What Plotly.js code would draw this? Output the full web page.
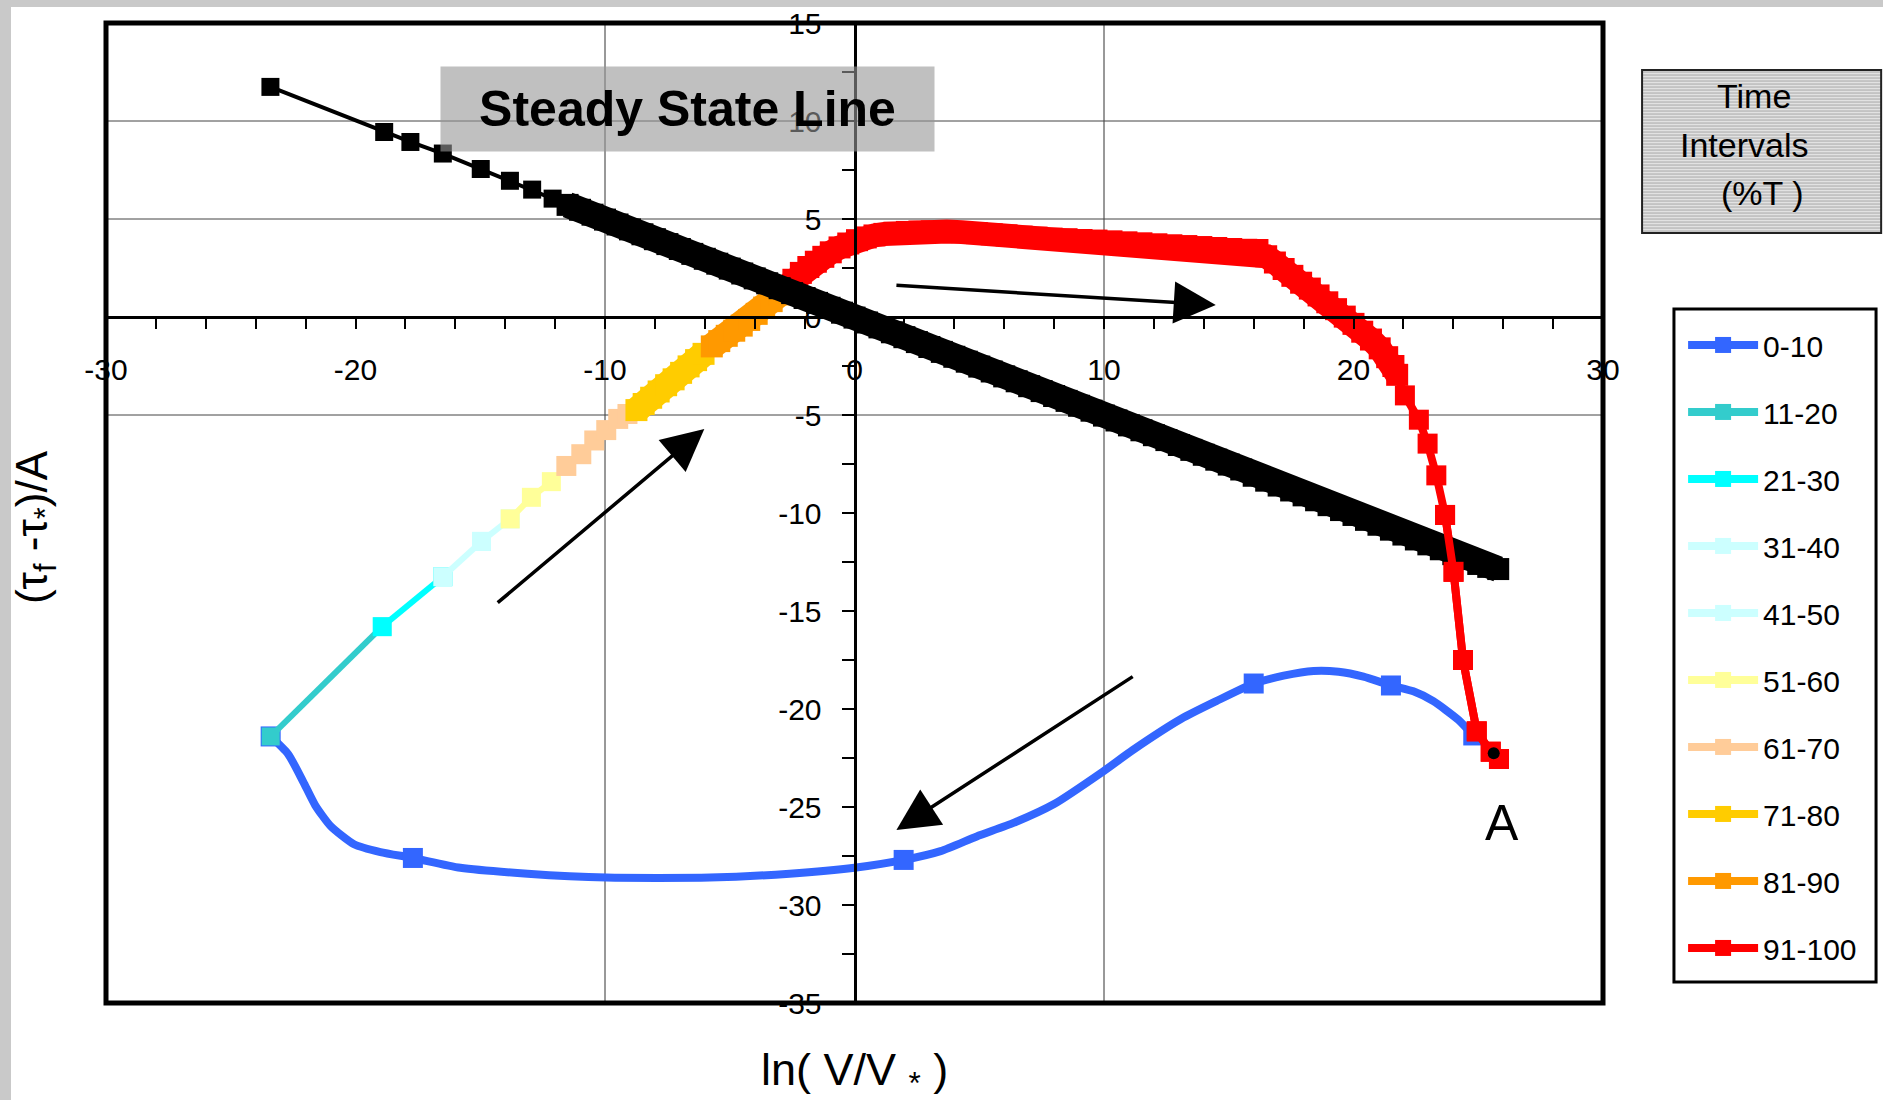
<!DOCTYPE html>
<html><head><meta charset="utf-8">
<script src="https://cdn.plot.ly/plotly-3.0.1.min.js"></script>
<style>
html,body{margin:0;padding:0;background:#c9c9c9;width:1883px;height:1100px;overflow:hidden}
#sheet{position:absolute;left:11px;top:7px;width:1872px;height:1093px;background:#fff}
#chart{position:absolute;left:0;top:0;width:1883px;height:1100px}
</style></head><body><div id="sheet"></div><div id="chart"></div>
<script>
// ---------- data ----------
const xTickVals = [-30, -20, -10, 0, 10, 20, 30];
const xTickText = ['-30', '-20', '-10', '0', '10', '20', '30'];
const yTickVals = [-35, -30, -25, -20, -15, -10, -5, 0, 5, 10, 15];
const yTickText = ['-35', '-30', '-25', '-20', '-15', '-10', '-5', '0', '5', '10', '15'];

const seriesNames = ['0-10', '11-20', '21-30', '31-40', '41-50', '51-60', '61-70', '71-80', '81-90', '91-100'];

// 0-10 (smooth path and its markers)
const t0PathX = [24.8, 24.2, 23.2, 22.4, 21.5, 20.4, 19.4, 18.4, 17.2, 16.0, 14.5, 13.1, 11.15, 9.95, 8.0, 6.4, 4.9, 3.45, 1.97, 0, -2.6, -5.8, -9.95, -13.1, -15.8, -17.7, -19.0, -20.06, -21.0, -21.62, -22.1, -22.7, -23.4];
const t0PathY = [-21.35, -20.55, -19.6, -19.1, -18.8, -18.35, -18.1, -18.06, -18.3, -18.7, -19.6, -20.5, -22.1, -23.2, -24.85, -25.8, -26.5, -27.25, -27.7, -28.1, -28.4, -28.6, -28.6, -28.4, -28.1, -27.6, -27.3, -26.9, -25.97, -24.9, -23.7, -22.3, -21.4];
const t0MarkX = [24.8, 21.5, 16.0, 1.97, -17.7, -23.4];
const t0MarkY = [-21.35, -18.8, -18.7, -27.7, -27.6, -21.4];

const t11X = [-23.4, -18.93];
const t11Y = [-21.4, -15.8];
const t21X = [-18.93, -16.5];
const t21Y = [-15.8, -13.25];
const t31X = [-16.5, -14.95];
const t31Y = [-13.25, -11.45];
const t41X = [-14.95, -13.8];
const t41Y = [-11.45, -10.3];
const t51X = [-13.8, -12.95, -12.15];
const t51Y = [-10.3, -9.2, -8.4];
const t61X = [-11.55, -10.95, -10.43, -9.95, -9.47, -9.1];
const t61Y = [-7.6, -7.0, -6.3, -5.77, -5.2, -4.95];
const t71X = [-8.74, -8.45, -8.15, -7.85, -7.55, -7.25, -6.95, -6.65, -6.35, -6.05];
const t71Y = [-4.75, -4.44, -4.12, -3.8, -3.48, -3.18, -2.85, -2.52, -2.2, -1.88];
const t81X = [-5.72, -5.42, -5.12, -4.82, -4.52, -4.22, -3.92, -3.62, -3.32, -3.02];
const t81Y = [-1.5, -1.23, -0.96, -0.7, -0.44, -0.15, 0.16, 0.48, 0.81, 1.15];
const t91X = [-2.75, -2.45, -2.15, -1.85, -1.55, -1.25, -0.95, -0.6, -0.25, 0.1, 0.45, 0.8, 1.2, 1.6, 2.1, 2.6, 3.1, 3.7, 4.3, 4.9, 5.5, 6.1, 6.7, 7.3, 7.9, 8.5, 9.1, 9.7, 10.3, 10.9, 11.5, 12.1, 12.7, 13.3, 13.9, 14.5, 15.1, 15.7, 16.15, 16.5, 16.85, 17.2, 17.55, 17.9, 18.25, 18.6, 18.95, 19.3, 19.65, 20.0, 20.35, 20.7, 21.05, 21.35, 21.6, 21.75, 22.06, 22.62, 22.97, 23.32, 23.67, 24.01, 24.39, 24.94, 25.5, 25.83];
const t91Y = [1.55, 1.9, 2.25, 2.55, 2.82, 3.07, 3.3, 3.55, 3.75, 3.92, 4.06, 4.16, 4.24, 4.3, 4.34, 4.36, 4.37, 4.36, 4.33, 4.28, 4.22, 4.16, 4.1, 4.05, 4.0, 3.97, 3.93, 3.9, 3.86, 3.81, 3.76, 3.71, 3.66, 3.62, 3.57, 3.52, 3.47, 3.43, 3.42, 3.1, 2.78, 2.45, 2.1, 1.75, 1.45, 1.1, 0.75, 0.4, 0.02, -0.35, -0.75, -1.15, -1.6, -2.05, -2.5, -2.95, -4.0, -5.24, -6.46, -8.08, -10.1, -13.0, -17.5, -21.14, -22.18, -22.55];

// steady state line
const ssX = [-23.41, -18.85, -17.8, -16.5, -14.98, -13.81, -12.92, -12.1, -11.5, -11, -10.5, -10, -9.5, -9, -8.5, -8, -7.5, -7, -6.5, -6, -5.5, -5, -4.5, -4, -3.5, -3, -2.5, -2, -1.5, -1, -0.5, 0, 0.5, 1, 1.5, 2, 2.5, 3, 3.5, 4, 4.5, 5, 5.5, 6, 6.5, 7, 7.5, 8, 8.5, 9, 9.5, 10, 10.5, 11, 11.5, 12, 12.5, 13, 13.5, 14, 14.5, 15, 15.5, 16, 16.5, 17, 17.5, 18, 18.5, 19, 19.5, 20, 20.5, 21, 21.5, 22, 22.5, 23, 23.5, 24, 24.5, 25, 25.4, 25.8];
const ssY = [11.74, 9.44, 8.93, 8.34, 7.55, 6.95, 6.5, 6.04, 5.72, 5.47, 5.22, 4.97, 4.72, 4.47, 4.22, 3.97, 3.72, 3.47, 3.22, 2.97, 2.72, 2.47, 2.22, 1.97, 1.72, 1.47, 1.22, 0.97, 0.72, 0.47, 0.22, -0.03, -0.28, -0.53, -0.78, -1.03, -1.28, -1.53, -1.78, -2.03, -2.28, -2.53, -2.78, -3.03, -3.28, -3.53, -3.78, -4.03, -4.28, -4.53, -4.78, -5.03, -5.28, -5.53, -5.78, -6.03, -6.28, -6.53, -6.78, -7.03, -7.28, -7.53, -7.78, -8.1, -8.35, -8.6, -8.85, -9.1, -9.35, -9.6, -9.85, -10.1, -10.35, -10.6, -10.85, -11.1, -11.35, -11.6, -11.85, -12.1, -12.35, -12.6, -12.75, -12.86];

// point A
const ptAX = [25.62];
const ptAY = [-22.26];

// ---------- styling ----------
const FONT = 'Liberation Sans, Arial, sans-serif';
const colors = ['#3366ff', '#33cccc', '#00ffff', '#ccffff', '#ccffff', '#ffff99', '#ffcc99', '#ffcc00', '#ff9900', '#ff0000'];

const traces = [];
function seg(i, x, y, lw, ms, extra) {
  return Object.assign({
    type: 'scatter', mode: 'lines+markers', x: x, y: y, name: seriesNames[i],
    legendgroup: 'g' + i, showlegend: false,
    line: {color: colors[i], width: lw},
    marker: {symbol: 'square', size: ms, color: colors[i], line: {width: 0}},
    hoverinfo: 'skip'
  }, extra || {});
}
// legend entries (one per time interval)
seriesNames.forEach((n, i) => traces.push(seg(i, [null], [null], 8, 20, {showlegend: true})));

traces.push(seg(0, t0PathX, t0PathY, 8, 0, {mode: 'lines', line: {color: colors[0], width: 8, shape: 'spline', smoothing: 0.6}}));
traces.push(seg(0, t0MarkX, t0MarkY, 8, 20, {mode: 'markers'}));
traces.push(seg(1, t11X, t11Y, 6, 18));
traces.push(seg(2, t21X, t21Y, 6, 19));
traces.push(seg(3, t31X, t31Y, 6, 19));
traces.push(seg(4, t41X, t41Y, 6, 19));
traces.push(seg(5, t51X, t51Y, 6, 19));
traces.push(seg(6, t61X, t61Y, 6, 20));
traces.push(seg(7, t71X, t71Y, 26, 22));
traces.push(seg(8, t81X, t81Y, 26, 22));
// 91-100: dense band part and sparse tail
const redDenseEnd = t91X.indexOf(21.75);
traces.push(seg(9, t91X.slice(0, redDenseEnd + 1), t91Y.slice(0, redDenseEnd + 1), 24, 22));
traces.push(seg(9, t91X.slice(redDenseEnd - 1), t91Y.slice(redDenseEnd - 1), 8, 20));
// steady state line: sparse start and dense band
const ssDenseStart = ssX.indexOf(-11.5);
traces.push({type: 'scatter', mode: 'lines+markers', x: ssX.slice(0, ssDenseStart + 1), y: ssY.slice(0, ssDenseStart + 1), showlegend: false, hoverinfo: 'skip',
  line: {color: '#000', width: 4}, marker: {symbol: 'square', size: 18, color: '#000'}});
traces.push({type: 'scatter', mode: 'lines+markers', x: ssX.slice(ssDenseStart), y: ssY.slice(ssDenseStart), showlegend: false, hoverinfo: 'skip',
  line: {color: '#000', width: 26}, marker: {symbol: 'square', size: 22, color: '#000'}});
// tail of 91-100 that lies over the steady state line
const tailStart = t91X.indexOf(23.67);
traces.push(seg(9, t91X.slice(tailStart), t91Y.slice(tailStart), 8, 20));
// point A
traces.push({type: 'scatter', mode: 'markers', x: ptAX, y: ptAY, showlegend: false, hoverinfo: 'skip',
  marker: {symbol: 'circle', size: 12, color: '#000'}});

const shapes = [];
[-10, 10].forEach(v => shapes.push({type: 'line', xref: 'x', yref: 'paper', x0: v, x1: v, y0: 0, y1: 1, layer: 'below', line: {color: '#333', width: 1}}));
[10, 5, -5].forEach(v => shapes.push({type: 'line', xref: 'paper', yref: 'y', x0: 0, x1: 1, y0: v, y1: v, layer: 'below', line: {color: '#444', width: 1}}));
shapes.push({type: 'rect', xref: 'paper', yref: 'paper', x0: 0, x1: 1, y0: 0, y1: 1, layer: 'above', line: {color: '#000', width: 5}});
// legend frame
shapes.push({type: 'rect', xref: 'paper', yref: 'paper', x0: 1.0474, x1: 1.1824, y0: 0.0214, y1: 0.7082, layer: 'below', fillcolor: '#fff', line: {color: '#000', width: 3}});
// time interval title box with horizontal hatching
const tb = {x0: 1.0261, x1: 1.1858, y0: 0.7857, y1: 0.952};
shapes.push({type: 'rect', xref: 'paper', yref: 'paper', x0: tb.x0, x1: tb.x1, y0: tb.y0, y1: tb.y1, layer: 'below', fillcolor: '#e2e2e2', line: {width: 0}});
let hatch = '';
for (let p = 2; p < 163; p += 3) {
  const yy = (tb.y1 - p / 980).toFixed(5);
  hatch += 'M' + tb.x0 + ',' + yy + 'L' + tb.x1 + ',' + yy + ' ';
}
shapes.push({type: 'path', xref: 'paper', yref: 'paper', path: hatch, layer: 'below', line: {color: '#a9a9a9', width: 1}});
shapes.push({type: 'rect', xref: 'paper', yref: 'paper', x0: tb.x0, x1: tb.x1, y0: tb.y0, y1: tb.y1, layer: 'below', line: {color: '#222', width: 2}});

const annotations = [
  {xref: 'paper', yref: 'paper', x: 0.5, y: -0.0714, text: 'ln( V/V <sub>*</sub> )', showarrow: false, xanchor: 'center', yanchor: 'middle', font: {family: FONT, size: 45, color: '#000'}},
  {xref: 'paper', yref: 'paper', x: -0.0474, y: 0.4857, text: '(τ<sub>f</sub> -τ<sub>*</sub>)/A', textangle: -90, showarrow: false, xanchor: 'center', yanchor: 'middle', font: {family: FONT, size: 44, color: '#000'}},
  {xref: 'x', yref: 'y', x: -6.69, y: 10.61, text: '<b>Steady State Line</b>', showarrow: false, xanchor: 'center', yanchor: 'middle', width: 491, height: 82, bgcolor: 'rgba(150,150,150,0.6)', font: {family: FONT, size: 50, color: '#000'}},
  {xref: 'paper', yref: 'paper', x: 1.1009, y: 0.9255, text: 'Time', showarrow: false, xanchor: 'center', yanchor: 'middle', font: {family: FONT, size: 34, color: '#000'}},
  {xref: 'paper', yref: 'paper', x: 1.0942, y: 0.8755, text: 'Intervals', showarrow: false, xanchor: 'center', yanchor: 'middle', font: {family: FONT, size: 34, color: '#000'}},
  {xref: 'paper', yref: 'paper', x: 1.1062, y: 0.8265, text: '(%T )', showarrow: false, xanchor: 'center', yanchor: 'middle', font: {family: FONT, size: 34, color: '#000'}},
  {xref: 'x', yref: 'y', x: 25.95, y: -25.82, text: 'A', showarrow: false, xanchor: 'center', yanchor: 'middle', font: {family: FONT, size: 50, color: '#000'}},
];
const arrows = [[-14.36, -14.64, -6.02, -5.71], [1.62, 1.62, 14.48, 0.61], [11.21, -18.3, 1.68, -26.17]];
arrows.forEach(a => annotations.push({xref: 'x', yref: 'y', axref: 'x', ayref: 'y', ax: a[0], ay: a[1], x: a[2], y: a[3], text: '', showarrow: true, arrowhead: 2, arrowsize: 2.4, arrowwidth: 3.5, arrowcolor: '#000', standoff: 0}));

const layout = {
  width: 1883, height: 1100,
  margin: {l: 106, r: 280, t: 23, b: 97, autoexpand: false},
  paper_bgcolor: 'rgba(0,0,0,0)', plot_bgcolor: '#fff',
  font: {family: FONT, color: '#000'},
  showlegend: true,
  legend: {x: 1.0535, y: 0.698, xanchor: 'left', yanchor: 'top', bgcolor: 'rgba(0,0,0,0)', borderwidth: 0,
    font: {family: FONT, size: 30, color: '#000'}, traceorder: 'grouped', tracegroupgap: 25, itemwidth: 70, itemclick: false, itemdoubleclick: false},
  xaxis: {range: [-30, 30], tickmode: 'array', tickvals: xTickVals, ticktext: xTickText, ticks: 'outside', ticklen: 10, tickwidth: 2, tickcolor: '#000',
    minor: {tickmode: 'linear', tick0: 0, dtick: 2, ticks: 'outside', ticklen: 10, tickwidth: 2, tickcolor: '#000', showgrid: false},
    showline: true, linewidth: 3, linecolor: '#000', anchor: 'free', position: 0.7, showgrid: false, zeroline: false,
    tickfont: {family: FONT, size: 30, color: '#000'}, ticklabelstandoff: 15, ticklabeloverflow: 'allow', fixedrange: true},
  yaxis: {range: [-35, 15], tickmode: 'array', tickvals: yTickVals, ticktext: yTickText, ticks: 'outside', ticklen: 12, tickwidth: 2, tickcolor: '#000',
    minor: {tickmode: 'linear', tick0: 0, dtick: 2.5, ticks: 'outside', ticklen: 12, tickwidth: 2, tickcolor: '#000', showgrid: false},
    showline: true, linewidth: 3, linecolor: '#000', anchor: 'free', position: 0.5, showgrid: false, zeroline: false,
    tickfont: {family: FONT, size: 30, color: '#000'}, ticklabelstandoff: 14, ticklabeloverflow: 'allow', fixedrange: true},
  shapes: shapes,
  annotations: annotations
};
Plotly.newPlot('chart', traces, layout, {staticPlot: true, displayModeBar: false});
</script></body></html>
